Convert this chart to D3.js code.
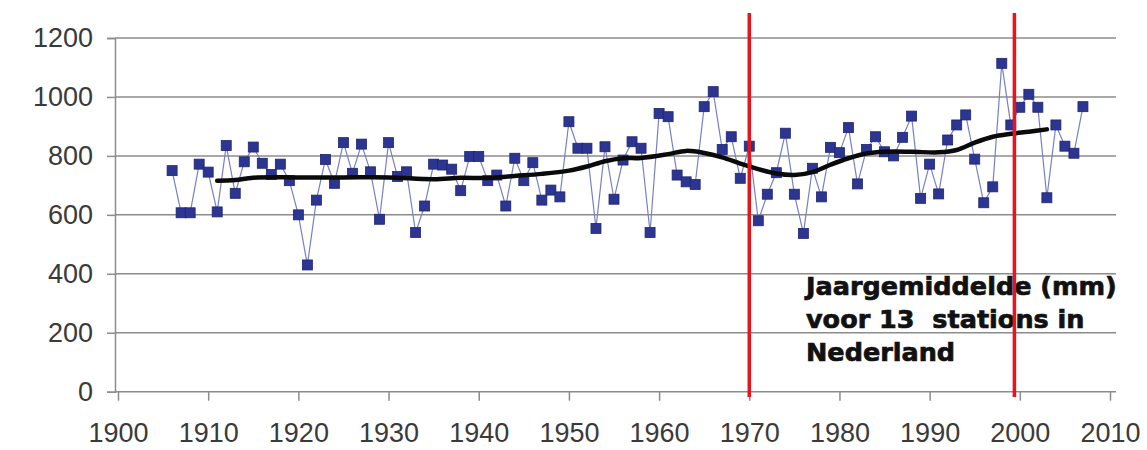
<!DOCTYPE html>
<html>
<head>
<meta charset="utf-8">
<script src="https://cdn.jsdelivr.net/npm/d3@7"></script>
<style>
  body { margin: 0; background: #fff; }
  text { font-family: "Liberation Sans", Arial, sans-serif; }
</style>
</head>
<body>
<svg id="chart" width="1147" height="450"></svg>
<script>
// yearly rainfall (mm), average of 13 stations, 1906-2007
var firstYear = 1906;
var rainfall = [
  750, 607, 607, 772, 745, 610, 835, 673, 780, 830,
  775, 737, 772, 716, 600, 430, 650, 788, 707, 845,
  741, 840, 746, 585, 845, 730, 746, 540, 630, 772,
  769, 755, 682, 798, 798, 716, 735, 630, 792, 716,
  777, 650, 684, 661, 916, 826, 826, 554, 831, 653,
  786, 848, 826, 540, 944, 933, 735, 712, 703, 967,
  1018, 822, 865, 724, 833, 580, 670, 743, 877, 670,
  537, 758, 661, 829, 811, 896, 705, 822, 865, 814,
  800, 863, 935, 656, 772, 671, 854, 905, 939, 789,
  641, 695, 1114, 905, 965, 1009, 965, 658, 905, 833,
  809, 967
];

// smoothed trend (black line), read at a few years
var trendYears  = [1911, 1913, 1915, 1920, 1925, 1930, 1935, 1938, 1941, 1944, 1947, 1950, 1952, 1954, 1956, 1958, 1961, 1963, 1965, 1967, 1969, 1971, 1973, 1975, 1977, 1979, 1981, 1983, 1985, 1988, 1991, 1993, 1995, 1997, 1999, 2001, 2003];
var trendValues = [716, 718, 726, 727, 727, 727, 721, 726, 725, 732, 739, 750, 764, 782, 792, 793, 806, 817, 810, 795, 774, 755, 740, 735, 745, 770, 792, 808, 814, 814, 812, 820, 845, 865, 875, 882, 890];

// red marker lines
var markerYears = [1970, 1999.4];

var xTicks = [1900, 1910, 1920, 1930, 1940, 1950, 1960, 1970, 1980, 1990, 2000, 2010];
var yTicks = [0, 200, 400, 600, 800, 1000, 1200];

var noteLines = ["Jaargemiddelde (mm)", "voor 13  stations in", "Nederland"];

var data = rainfall.map(function(v, i) { return {year: firstYear + i, value: v}; });
var trend = trendYears.map(function(y, i) { return {year: y, value: trendValues[i]}; });

var svg = d3.select("#chart");

var x = d3.scaleLinear().domain([1900, 2010]).range([118, 1110]);
var y = d3.scaleLinear().domain([0, 1200]).range([391.7, 38]);

// horizontal gridlines
svg.append("g")
  .selectAll("line")
  .data(yTicks)
  .enter()
  .append("line")
  .attr("x1", x(1900) - 3)
  .attr("x2", x(2010) + 6)
  .attr("y1", function(d) { return y(d); })
  .attr("y2", function(d) { return y(d); })
  .attr("stroke", "#8c8c8c")
  .attr("stroke-width", 1.5);

// y axis
var yAxis = d3.axisLeft(y).tickValues(yTicks).tickFormat(d3.format("d")).tickSize(8).tickPadding(14);
var gy = svg.append("g")
  .attr("transform", "translate(" + (x(1900) - 3) + ",0)")
  .call(yAxis);
gy.select(".domain").attr("stroke", "#8c8c8c").attr("stroke-width", 1.5);
gy.selectAll(".tick line").attr("stroke", "#8c8c8c").attr("stroke-width", 1.5);
gy.selectAll("text")
  .attr("fill", "#3a3a3a")
  .style("font-size", "27px")
  .style("font-family", "'Liberation Sans', Arial, sans-serif");

// x axis
var xAxis = d3.axisBottom(x).tickValues(xTicks).tickFormat(d3.format("d")).tickSize(9).tickSizeOuter(0).tickPadding(22);
var gx = svg.append("g")
  .attr("transform", "translate(0," + y(0) + ")")
  .call(xAxis);
gx.select(".domain").remove();
gx.selectAll(".tick line").attr("stroke", "#8c8c8c").attr("stroke-width", 1.5);
gx.selectAll("text")
  .attr("fill", "#3a3a3a")
  .style("font-size", "27px")
  .style("font-family", "'Liberation Sans', Arial, sans-serif");

// thin connecting line
var line = d3.line()
  .x(function(d) { return x(d.year); })
  .y(function(d) { return y(d.value); });

svg.append("path")
  .datum(data)
  .attr("d", line)
  .attr("fill", "none")
  .attr("stroke", "#7880c2")
  .attr("stroke-width", 1.2);

// square markers
svg.append("g")
  .selectAll("rect")
  .data(data)
  .enter()
  .append("rect")
  .attr("x", function(d) { return x(d.year) - 5; })
  .attr("y", function(d) { return y(d.value) - 5; })
  .attr("width", 10)
  .attr("height", 10)
  .attr("fill", "#2c3591")
  .attr("stroke", "#1f2670")
  .attr("stroke-width", 0.8);

// smoothed trend
var trendLine = d3.line()
  .curve(d3.curveCatmullRom.alpha(0.5))
  .x(function(d) { return x(d.year); })
  .y(function(d) { return y(d.value); });

svg.append("path")
  .datum(trend)
  .attr("d", trendLine)
  .attr("fill", "none")
  .attr("stroke", "#0a0a0a")
  .attr("stroke-width", 4.5)
  .attr("stroke-linecap", "round");

// annotation
svg.append("text")
  .attr("x", 806)
  .attr("y", 295)
  .attr("fill", "#111")
  .attr("stroke", "#111")
  .attr("stroke-width", 0.7)
  .style("font-family", "'DejaVu Sans', Verdana, sans-serif")
  .style("font-weight", "bold")
  .style("font-size", "25.5px")
  .selectAll("tspan")
  .data(noteLines)
  .enter()
  .append("tspan")
  .attr("x", 806)
  .attr("dy", function(d, i) { return i === 0 ? 0 : 33; })
  .style("white-space", "pre")
  .text(function(d) { return d; });

// red vertical lines
svg.append("g")
  .selectAll("line")
  .data(markerYears)
  .enter()
  .append("line")
  .attr("x1", function(d) { return x(d); })
  .attr("x2", function(d) { return x(d); })
  .attr("y1", 13)
  .attr("y2", 397)
  .attr("stroke", "#e8141c")
  .attr("stroke-width", 3.5);
</script>
</body>
</html>
